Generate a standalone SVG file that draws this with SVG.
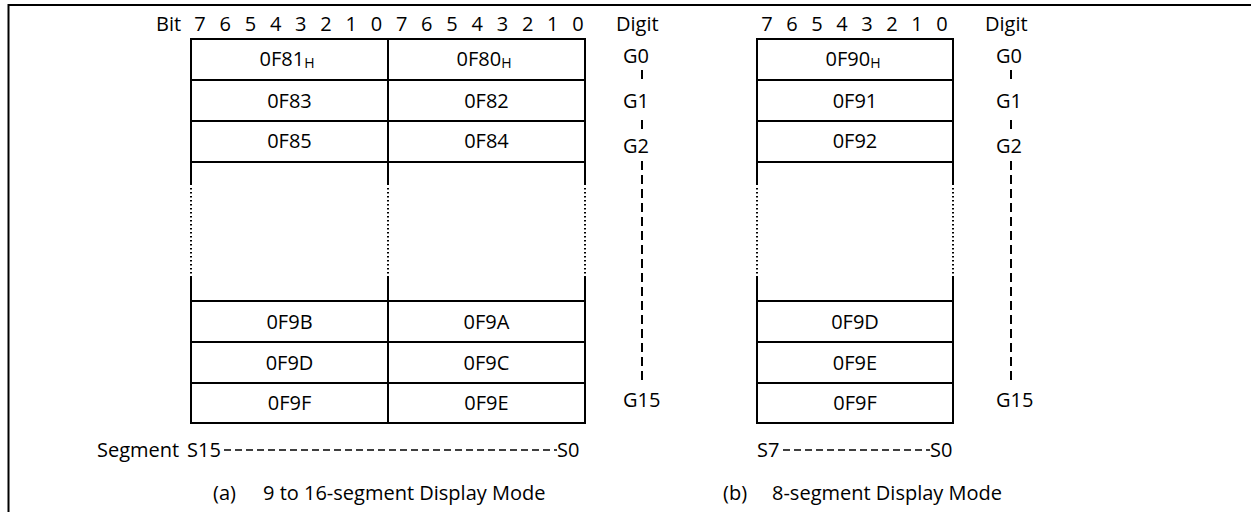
<svg xmlns="http://www.w3.org/2000/svg" width="1251" height="512" viewBox="0 0 1251 512">
<style>
text { font-family: "Open Sans", "Noto Sans", "Liberation Sans", sans-serif; font-size: 20px; fill: #000; }
.c { text-anchor: middle; }
.sub { font-size: 14px; }
.ln { stroke: #000; stroke-width: 2; fill: none; }
.dot { stroke: #000; stroke-width: 2; stroke-dasharray: 1.5 2.5; fill: none; }
.dash { stroke: #000; stroke-width: 2; stroke-dasharray: 9 5; fill: none; }
.sdash { stroke: #000; stroke-width: 1.5; stroke-dasharray: 7 4; fill: none; }
</style>
<rect width="1251" height="512" fill="#fff"/>
<g id="frame"><path class="ln" d="M8.5 512 V5 H1251"/></g>

<g id="bits-a">
<text x="156" y="31">Bit</text>
<text class="c" y="31"><tspan x="200">7</tspan><tspan x="225.2">6</tspan><tspan x="250.4">5</tspan><tspan x="275.6">4</tspan><tspan x="300.8">3</tspan><tspan x="326">2</tspan><tspan x="351.2">1</tspan><tspan x="376.4">0</tspan><tspan x="401.6">7</tspan><tspan x="426.8">6</tspan><tspan x="452">5</tspan><tspan x="477.2">4</tspan><tspan x="502.4">3</tspan><tspan x="527.6">2</tspan><tspan x="552.8">1</tspan><tspan x="578">0</tspan></text>
<text x="616" y="31">Digit</text>
</g>
<g id="bits-b">
<text class="c" y="31"><tspan x="767">7</tspan><tspan x="792">6</tspan><tspan x="817">5</tspan><tspan x="842">4</tspan><tspan x="867">3</tspan><tspan x="892">2</tspan><tspan x="917">1</tspan><tspan x="942">0</tspan></text>
<text x="985" y="31">Digit</text>
</g>

<g id="table-a">
<path class="ln" d="M191 39 H585 M191 80 H585 M191 121 H585 M191 162 H585 M191 301 H585 M191 342 H585 M191 383 H585 M191 423 H585"/>
<path class="ln" d="M191 38 V185 M388 39 V185 M585 38 V185 M191 276 V424 M388 276 V423 M585 276 V424"/>
<path class="dot" d="M191 188 V274 M388 188 V274 M585 188 V274"/>
<text class="c" x="287" y="66">0F81<tspan class="sub" dy="2">H</tspan></text>
<text class="c" x="484" y="66">0F80<tspan class="sub" dy="2">H</tspan></text>
<text class="c" x="289.5" y="108">0F83</text>
<text class="c" x="486.5" y="108">0F82</text>
<text class="c" x="289.5" y="148">0F85</text>
<text class="c" x="486.5" y="148">0F84</text>
<text class="c" x="289.5" y="329">0F9B</text>
<text class="c" x="486.5" y="329">0F9A</text>
<text class="c" x="289.5" y="370">0F9D</text>
<text class="c" x="486.5" y="370">0F9C</text>
<text class="c" x="289.5" y="410">0F9F</text>
<text class="c" x="486.5" y="410">0F9E</text>
</g>

<g id="table-b">
<path class="ln" d="M757 39 H953 M757 80 H953 M757 121 H953 M757 162 H953 M757 301 H953 M757 342 H953 M757 383 H953 M757 423 H953"/>
<path class="ln" d="M757 38 V185 M953 38 V185 M757 276 V424 M953 276 V424"/>
<path class="dot" d="M757 188 V274 M953 188 V274"/>
<text class="c" x="853" y="66">0F90<tspan class="sub" dy="2">H</tspan></text>
<text class="c" x="855" y="108">0F91</text>
<text class="c" x="855" y="148">0F92</text>
<text class="c" x="855" y="329">0F9D</text>
<text class="c" x="855" y="370">0F9E</text>
<text class="c" x="855" y="410">0F9F</text>
</g>

<g id="digits-a">
<text x="623" y="63">G0</text>
<text x="623" y="108">G1</text>
<text x="623" y="153">G2</text>
<text x="623" y="407">G15</text>
</g>
<g id="digits-b">
<text x="996" y="63">G0</text>
<text x="996" y="108">G1</text>
<text x="996" y="153">G2</text>
<text x="996" y="407">G15</text>
</g>

<g id="connectors">
<path class="dash" d="M642 70 V79 M642 120 V129 M642 161 V383"/>
<path class="dash" d="M1011 70 V79 M1011 120 V129 M1011 161 V383"/>
<path class="sdash" d="M224 450 H557"/>
<path class="sdash" d="M783 450 H930"/>
</g>

<g id="segments-a">
<text x="97" y="457">Segment</text>
<text x="187" y="457">S15</text>
<text x="557" y="457">S0</text>
</g>
<g id="segments-b">
<text x="757" y="457">S7</text>
<text x="930" y="457">S0</text>
</g>

<g id="captions">
<text x="213" y="500">(a)</text>
<text x="263" y="500">9 to 16-segment Display Mode</text>
<text x="723" y="500">(b)</text>
<text x="772" y="500">8-segment Display Mode</text>
</g>
</svg>
